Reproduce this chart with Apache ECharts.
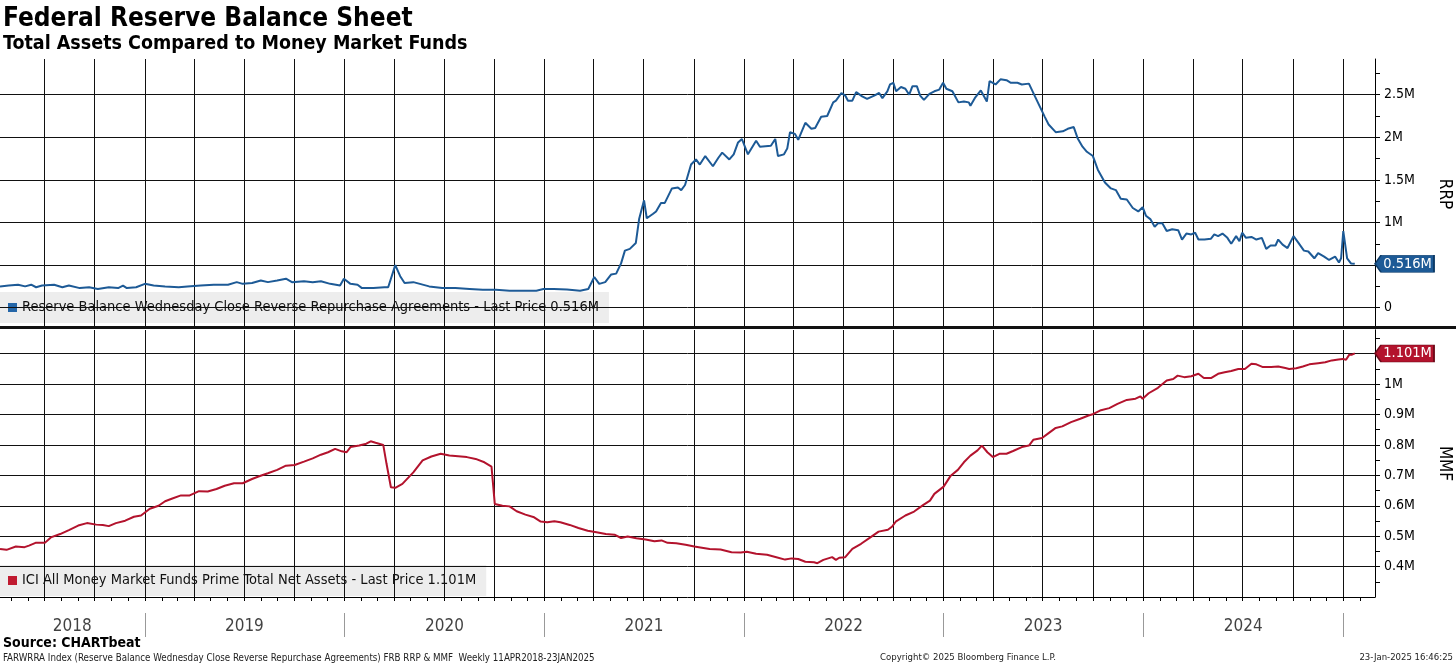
<!DOCTYPE html>
<html><head><meta charset="utf-8">
<script src="https://cdn.jsdelivr.net/npm/echarts@6/dist/echarts.min.js"></script>
<style>html,body{margin:0;padding:0;background:#fff}#c{width:1456px;height:665px}</style>
</head><body><div id="c"></div>
<script>
// ---------------- DATA ----------------
const rrpName = 'Reserve Balance Wednesday Close Reverse Repurchase Agreements - Last Price 0.516M';
const mmfName = 'ICI All Money Market Funds Prime Total Net Assets - Last Price 1.101M';

const rrpDates = ['2018-04-11','2018-04-27','2018-05-14','2018-05-27','2018-06-07','2018-06-16','2018-06-27','2018-07-19','2018-08-03','2018-08-15','2018-09-04','2018-09-21','2018-10-07','2018-10-27','2018-11-13','2018-11-22','2018-11-29','2018-12-16',
'2019-01-01','2019-01-17','2019-02-07','2019-03-04','2019-03-20','2019-04-13','2019-05-07','2019-06-02','2019-06-18','2019-06-29','2019-07-16','2019-08-01','2019-08-14','2019-08-31','2019-09-16','2019-09-27','2019-10-19','2019-11-04','2019-11-19','2019-12-06','2019-12-24','2019-12-31',
'2020-01-12','2020-01-25','2020-02-02','2020-02-23','2020-03-14','2020-03-21','2020-04-03','2020-04-12','2020-04-20','2020-05-06','2020-05-18','2020-06-04','2020-06-28','2020-07-22','2020-08-17','2020-09-10','2020-10-04','2020-10-29','2020-11-22','2020-12-17','2020-12-30',
'2021-01-18','2021-02-11','2021-03-07','2021-03-22','2021-04-02','2021-04-11','2021-04-22','2021-05-03','2021-05-12','2021-05-21','2021-05-28','2021-06-06','2021-06-17','2021-06-23','2021-07-02','2021-07-07','2021-07-18','2021-07-24','2021-08-02','2021-08-09','2021-08-22','2021-09-02','2021-09-08','2021-09-15','2021-09-26','2021-10-05','2021-10-12','2021-10-22','2021-11-05','2021-11-15','2021-11-22','2021-12-05','2021-12-13','2021-12-21','2021-12-28',
'2022-01-08','2022-01-23','2022-01-30','2022-02-19','2022-02-27','2022-03-04','2022-03-15','2022-03-21','2022-03-26','2022-04-04','2022-04-10','2022-04-23','2022-05-04','2022-05-11','2022-05-22','2022-06-02','2022-06-13','2022-06-18','2022-06-28','2022-07-05','2022-07-10','2022-07-18','2022-07-25','2022-08-05','2022-08-14','2022-08-27','2022-09-05','2022-09-11','2022-09-20','2022-09-25','2022-10-01','2022-10-06','2022-10-15','2022-10-23','2022-10-30','2022-11-05','2022-11-13','2022-11-19','2022-11-26','2022-12-06','2022-12-15','2022-12-24','2022-12-31',
'2023-01-06','2023-01-17','2023-01-28','2023-02-07','2023-02-16','2023-02-19','2023-02-28','2023-03-10','2023-03-21','2023-03-26','2023-04-06','2023-04-15','2023-04-26','2023-05-04','2023-05-16','2023-05-24','2023-06-06','2023-06-17','2023-06-26','2023-07-05','2023-07-12','2023-07-25','2023-08-07','2023-08-16','2023-08-27','2023-09-03','2023-09-12','2023-09-20','2023-10-01','2023-10-10','2023-10-23','2023-11-03','2023-11-12','2023-11-21','2023-12-02','2023-12-13','2023-12-23','2023-12-31',
'2024-01-06','2024-01-14','2024-01-22','2024-01-28','2024-02-05','2024-02-13','2024-02-23','2024-03-05','2024-03-12','2024-03-20','2024-03-29','2024-04-05','2024-04-11','2024-04-22','2024-05-04','2024-05-10','2024-05-17','2024-05-25','2024-06-03','2024-06-10','2024-06-19','2024-06-25','2024-06-30','2024-07-07','2024-07-17','2024-07-26','2024-08-05','2024-08-13','2024-08-21','2024-08-30','2024-09-04','2024-09-12','2024-09-21','2024-10-02','2024-10-11','2024-10-21','2024-10-29','2024-11-09','2024-11-16','2024-11-27','2024-12-06','2024-12-17','2024-12-24','2024-12-28',
'2025-01-01','2025-01-08','2025-01-15','2025-01-22'];
const rrpValues = [0.25,0.26,0.27,0.25,0.27,0.24,0.26,0.27,0.24,0.26,0.23,0.24,0.22,0.24,0.23,0.26,0.23,0.24,
0.28,0.26,0.25,0.24,0.25,0.26,0.27,0.27,0.30,0.28,0.29,0.32,0.30,0.32,0.34,0.30,0.31,0.30,0.31,0.28,0.26,0.34,
0.28,0.27,0.23,0.23,0.24,0.24,0.50,0.37,0.29,0.30,0.28,0.25,0.23,0.23,0.22,0.21,0.21,0.20,0.20,0.20,0.22,
0.22,0.215,0.20,0.22,0.36,0.28,0.30,0.39,0.40,0.52,0.67,0.69,0.76,1.04,1.26,1.05,1.10,1.13,1.23,1.23,1.40,1.41,1.38,1.44,1.68,1.74,1.68,1.78,1.66,1.76,1.82,1.74,1.80,1.94,1.98,
1.80,1.96,1.89,1.90,1.98,1.78,1.80,1.87,2.06,2.04,1.97,2.17,2.10,2.11,2.24,2.25,2.41,2.43,2.52,2.49,2.43,2.43,2.53,2.48,2.45,2.49,2.52,2.46,2.54,2.62,2.64,2.54,2.59,2.57,2.50,2.60,2.60,2.49,2.44,2.51,2.54,2.56,2.64,
2.57,2.54,2.41,2.42,2.41,2.37,2.47,2.55,2.42,2.66,2.62,2.68,2.67,2.64,2.64,2.62,2.63,2.48,2.36,2.24,2.15,2.06,2.07,2.10,2.12,1.99,1.89,1.83,1.78,1.62,1.47,1.40,1.38,1.28,1.27,1.17,1.13,1.18,
1.08,1.04,0.95,0.99,0.99,0.90,0.92,0.91,0.80,0.87,0.86,0.88,0.80,0.80,0.81,0.86,0.84,0.87,0.82,0.75,0.84,0.78,0.88,0.82,0.83,0.80,0.82,0.69,0.73,0.73,0.80,0.74,0.70,0.84,0.76,0.67,0.66,0.58,0.64,0.60,0.56,0.60,0.53,0.58,
0.90,0.58,0.52,0.516];

const mmfDates = ['2018-04-11','2018-04-23','2018-05-10','2018-05-26','2018-06-03','2018-06-15','2018-07-02','2018-07-13','2018-07-30','2018-08-15','2018-09-01','2018-09-17','2018-10-04','2018-10-16','2018-10-27','2018-11-09','2018-11-26','2018-12-12','2018-12-25',
'2019-01-10','2019-01-26','2019-02-07','2019-02-19','2019-03-08','2019-03-24','2019-04-10','2019-04-26','2019-05-12','2019-05-27','2019-06-13','2019-06-29','2019-07-16','2019-07-29','2019-08-14','2019-08-31','2019-09-16','2019-10-02','2019-10-19','2019-11-04','2019-11-19','2019-12-02','2019-12-15','2019-12-27',
'2020-01-05','2020-01-12','2020-01-28','2020-02-10','2020-02-18','2020-02-27','2020-03-12','2020-03-18','2020-03-26','2020-04-03','2020-04-16','2020-05-06','2020-05-23','2020-06-08','2020-06-25','2020-07-11','2020-07-27','2020-08-12','2020-08-28','2020-09-13','2020-09-26','2020-10-02','2020-10-16','2020-10-29','2020-11-11','2020-11-27','2020-12-13','2020-12-25',
'2021-01-06','2021-01-19','2021-01-30','2021-02-16','2021-03-04','2021-03-21','2021-04-06','2021-04-23','2021-05-09','2021-05-21','2021-06-02','2021-06-18','2021-07-05','2021-07-21','2021-08-03','2021-08-14','2021-08-30','2021-09-16','2021-10-02','2021-10-13','2021-10-30','2021-11-19','2021-12-09','2021-12-26',
'2022-01-06','2022-01-23','2022-02-12','2022-03-01','2022-03-17','2022-03-29','2022-04-10','2022-04-23','2022-05-09','2022-05-15','2022-05-26','2022-06-11','2022-06-18','2022-06-24','2022-07-05','2022-07-18','2022-08-03','2022-08-20','2022-09-04','2022-09-21','2022-09-29','2022-10-06','2022-10-23','2022-11-08','2022-11-25','2022-12-07','2022-12-15',
'2023-01-01','2023-01-14','2023-01-27','2023-02-07','2023-02-19','2023-03-04','2023-03-12','2023-03-22','2023-04-01','2023-04-13','2023-04-26','2023-05-08','2023-05-24','2023-06-06','2023-06-14','2023-06-30','2023-07-12','2023-07-25','2023-08-06','2023-08-22','2023-09-08','2023-09-23','2023-10-02','2023-10-14','2023-10-31','2023-11-15','2023-12-02','2023-12-18','2023-12-27','2023-12-31',
'2024-01-11','2024-01-28','2024-02-13','2024-02-25','2024-03-04','2024-03-16','2024-03-29','2024-04-11','2024-04-21','2024-05-04','2024-05-17','2024-05-29','2024-06-10','2024-06-23','2024-07-05','2024-07-17','2024-07-26','2024-08-07','2024-08-22','2024-09-04','2024-09-17','2024-09-24','2024-10-07','2024-10-19','2024-10-31','2024-11-16','2024-11-29','2024-12-11','2024-12-23','2024-12-31',
'2025-01-06','2025-01-12','2025-01-17','2025-01-22'];
const mmfValues = [0.458,0.455,0.466,0.464,0.469,0.478,0.478,0.496,0.507,0.520,0.535,0.543,0.538,0.537,0.533,0.543,0.551,0.564,0.568,
0.590,0.600,0.615,0.623,0.634,0.634,0.648,0.647,0.655,0.666,0.674,0.674,0.688,0.697,0.707,0.718,0.732,0.734,0.745,0.756,0.768,0.776,0.787,0.779,
0.776,0.793,0.798,0.804,0.812,0.807,0.800,0.738,0.661,0.659,0.672,0.710,0.749,0.762,0.771,0.765,0.763,0.760,0.754,0.743,0.729,0.606,0.600,0.598,0.582,0.571,0.562,0.548,
0.546,0.549,0.546,0.537,0.527,0.518,0.513,0.507,0.505,0.494,0.499,0.493,0.489,0.483,0.486,0.478,0.477,0.472,0.466,0.463,0.458,0.456,0.447,0.446,
0.449,0.442,0.439,0.431,0.423,0.427,0.425,0.416,0.414,0.411,0.422,0.431,0.422,0.429,0.431,0.458,0.475,0.496,0.515,0.521,0.532,0.549,0.568,0.581,0.603,0.617,0.639,
0.663,0.699,0.718,0.743,0.765,0.782,0.798,0.776,0.760,0.771,0.771,0.780,0.793,0.798,0.817,0.823,0.839,0.856,0.861,0.875,0.886,0.897,0.902,0.913,0.921,0.935,0.948,0.952,0.960,0.952,
0.970,0.988,1.012,1.017,1.028,1.023,1.026,1.034,1.020,1.020,1.034,1.039,1.043,1.050,1.050,1.067,1.065,1.056,1.056,1.058,1.053,1.050,1.052,1.058,1.065,1.069,1.072,1.078,1.081,1.083,
1.080,1.097,1.097,1.101];

// axis / tick definitions
const xMin = '2018-04-11', xMax = '2025-02-28';
const quarterDates = ['2018-07-01','2018-10-01','2019-01-01','2019-04-01','2019-07-01','2019-10-01','2020-01-01','2020-04-01','2020-07-01','2020-10-01','2021-01-01','2021-04-01','2021-07-01','2021-10-01','2022-01-01','2022-04-01','2022-07-01','2022-10-01','2023-01-01','2023-04-01','2023-07-01','2023-10-01','2024-01-01','2024-04-01','2024-07-01','2024-10-01','2025-01-01'];
const yearStarts = ['2019-01-01','2020-01-01','2021-01-01','2022-01-01','2023-01-01','2024-01-01','2025-01-01'];
const yearLabels = ['2018','2019','2020','2021','2022','2023','2024'];
const yearLabelDates = ['2018-08-21','2019-07-02','2020-07-02','2021-07-02','2022-07-02','2023-07-02','2024-07-02'];
const rrpGridValues = [0, 0.5, 1, 1.5, 2, 2.5];
const rrpTickValues = [0, 0.25, 0.5, 0.75, 1, 1.25, 1.5, 1.75, 2, 2.25, 2.5, 2.75];
const rrpLabelValues = [0, 1, 1.5, 2, 2.5];
const mmfGridValues = [0.4, 0.5, 0.6, 0.7, 0.8, 0.9, 1.0, 1.1];
const mmfTickValues = [0.35, 0.4, 0.45, 0.5, 0.55, 0.6, 0.65, 0.7, 0.75, 0.8, 0.85, 0.9, 0.95, 1.0, 1.05, 1.1, 1.15];
const mmfLabelValues = [0.4, 0.5, 0.6, 0.7, 0.8, 0.9, 1.0];
const monthTicks = [];
for (let y = 2018; y <= 2025; y++) for (let m = 1; m <= 12; m++) {
  const s = y + '-' + String(m).padStart(2, '0') + '-01';
  if (s > xMin && s <= xMax) monthTicks.push(s);
}

// ---------------- STYLE ----------------
const FONT = "'DejaVu Sans Condensed','DejaVu Sans',sans-serif";
const RRP_COLOR = '#1d5a96', MMF_COLOR = '#b3132d';
const TAG = 'path://M0,8L6,0L59,0L59,16L6,16Z';
const gridStyle = { color: '#111', width: 1, type: 'solid' };
const fmtM = v => (Math.abs(v) < 1e-9 ? '0' : (Math.round(v * 100) / 100) + 'M');

const rrpData = rrpDates.map((d, i) => [d, rrpValues[i]]);
const mmfData = mmfDates.map((d, i) => [d, mmfValues[i]]);
const rrpLast = rrpValues[rrpValues.length - 1];
const mmfLast = mmfValues[mmfValues.length - 1];

function gridMarks(yVals) {
  return {
    silent: true, symbol: ['none', 'none'], label: { show: false }, lineStyle: gridStyle, animation: false,
    emphasis: { disabled: true },
    data: quarterDates.map(d => ({ xAxis: d })).concat(yVals.map(v => ({ yAxis: v })))
  };
}
function tag(color, border, value) {
  return {
    silent: true, symbol: TAG, symbolSize: [59, 17], symbolOffset: [29.5, 0], symbolKeepAspect: false,
    itemStyle: { color: color, borderColor: border, borderWidth: 1 },
    label: { show: true, position: 'inside', offset: [3, 0], color: '#fff', fontFamily: FONT, fontSize: 14.5, formatter: p => p.name },
    data: [{ name: value.toFixed(3) + 'M', coord: [xMax, value] }]
  };
}
function legendCfg(name, top) {
  return {
    data: [name], left: 0, top: top, icon: 'rect', itemWidth: 9, itemHeight: 9, itemGap: 0,
    padding: [8, 10, 8, 8], backgroundColor: 'rgba(222,222,222,0.55)', selectedMode: false,
    textStyle: { fontFamily: FONT, fontSize: 14.5, color: '#111' }
  };
}
function yAxisCfg(grid, min, max, ticks, labels, name) {
  return {
    gridIndex: grid, type: 'value', position: 'right', min: min, max: max,
    axisLine: { show: true, lineStyle: { color: '#000', width: 1 } },
    axisTick: { show: true, length: 5, lineStyle: { color: '#000' }, customValues: ticks },
    axisLabel: { show: true, customValues: labels, formatter: fmtM, margin: 9, fontFamily: FONT, fontSize: 14, color: '#000' },
    splitLine: { show: false },
    name: name, nameLocation: 'middle', nameRotate: -90, nameGap: 61,
    nameTextStyle: { fontFamily: FONT, fontSize: 17, color: '#000' }
  };
}
const gridBase = { left: 0, right: 81, containLabel: false, outerBoundsMode: 'none' };

const chart = echarts.init(document.getElementById('c'));
chart.setOption({
  animation: false,
  backgroundColor: '#fff',
  title: [
    { text: 'Federal Reserve Balance Sheet', left: 3, top: 6, padding: 0, textStyle: { fontFamily: FONT, fontWeight: 'bold', fontSize: 26, color: '#000' } },
    { text: 'Total Assets Compared to Money Market Funds', left: 3, top: 34, padding: 0, textStyle: { fontFamily: FONT, fontWeight: 'bold', fontSize: 19.5, color: '#000' } },
    { text: 'Source: CHARTbeat', left: 3, top: 636, padding: 0, textStyle: { fontFamily: FONT, fontWeight: 'bold', fontSize: 14, color: '#000' } },
    { text: 'FARWRRA Index (Reserve Balance Wednesday Close Reverse Repurchase Agreements) FRB RRP & MMF  Weekly 11APR2018-23JAN2025', left: 3, top: 653, padding: 0, textStyle: { fontFamily: FONT, fontWeight: 'normal', fontSize: 9.7, color: '#222' } },
    { text: 'Copyright\u00A9 2025 Bloomberg Finance L.P.', left: 880, top: 653, padding: 0, textStyle: { fontFamily: FONT, fontWeight: 'normal', fontSize: 9.5, color: '#222' } },
    { text: '23-Jan-2025 16:46:25', right: 3, top: 653, padding: 0, textStyle: { fontFamily: FONT, fontWeight: 'normal', fontSize: 9.5, color: '#222' } }
  ],
  legend: [legendCfg(rrpName, 292), legendCfg(mmfName, 565)],
  grid: [
    Object.assign({ top: 59, height: 270 }, gridBase),
    Object.assign({ top: 330, height: 267 }, gridBase),
    Object.assign({ top: 613, height: 24 }, gridBase)
  ],
  xAxis: [
    { gridIndex: 0, type: 'time', min: xMin, max: xMax, show: false },
    { gridIndex: 1, type: 'time', min: xMin, max: xMax,
      axisLine: { show: true, lineStyle: { color: '#000', width: 1 } },
      axisTick: { show: true, length: 4, lineStyle: { color: '#000' }, customValues: monthTicks },
      axisLabel: { show: false }, splitLine: { show: false } },
    { gridIndex: 2, type: 'time', min: xMin, max: xMax, show: false }
  ],
  yAxis: [
    yAxisCfg(0, -0.25, 2.919, rrpTickValues, rrpLabelValues, 'RRP'),
    yAxisCfg(1, 0.3, 1.178, mmfTickValues, mmfLabelValues, 'MMF'),
    { gridIndex: 2, type: 'value', min: 0, max: 1, show: false }
  ],
  series: [
    { type: 'line', xAxisIndex: 0, yAxisIndex: 0, data: [], z: 1, silent: true, markLine: gridMarks(rrpGridValues) },
    { type: 'line', name: rrpName, xAxisIndex: 0, yAxisIndex: 0, data: rrpData, z: 5, showSymbol: false, symbol: 'none',
      lineStyle: { color: RRP_COLOR, width: 2 }, itemStyle: { color: '#2466a8' }, markPoint: tag(RRP_COLOR, '#0c3a66', rrpLast) },
    { type: 'line', xAxisIndex: 1, yAxisIndex: 1, data: [], z: 1, silent: true, markLine: gridMarks(mmfGridValues) },
    { type: 'line', name: mmfName, xAxisIndex: 1, yAxisIndex: 1, data: mmfData, z: 5, showSymbol: false, symbol: 'none',
      lineStyle: { color: MMF_COLOR, width: 2 }, itemStyle: { color: '#c01a30' }, markPoint: tag(MMF_COLOR, '#6e0a1a', mmfLast) },
    { type: 'line', xAxisIndex: 2, yAxisIndex: 2, data: [], z: 1, silent: true,
      markLine: { silent: true, symbol: ['none', 'none'], label: { show: false }, lineStyle: { color: '#999', width: 1, type: 'solid' }, data: yearStarts.map(d => ({ xAxis: d })) } },
    { type: 'scatter', xAxisIndex: 2, yAxisIndex: 2, silent: true, symbolSize: 1, itemStyle: { color: 'rgba(0,0,0,0)' },
      label: { show: true, position: 'inside', formatter: '{b}', fontFamily: FONT, fontSize: 17, color: '#111' },
      data: yearLabels.map((y, i) => ({ name: y, value: [yearLabelDates[i], 0.42] })) }
  ],
  graphic: [
    { type: 'rect', left: 0, top: 326, z: 100, shape: { width: 1456, height: 3 }, style: { fill: '#111' } }
  ]
});
</script>
</body></html>
